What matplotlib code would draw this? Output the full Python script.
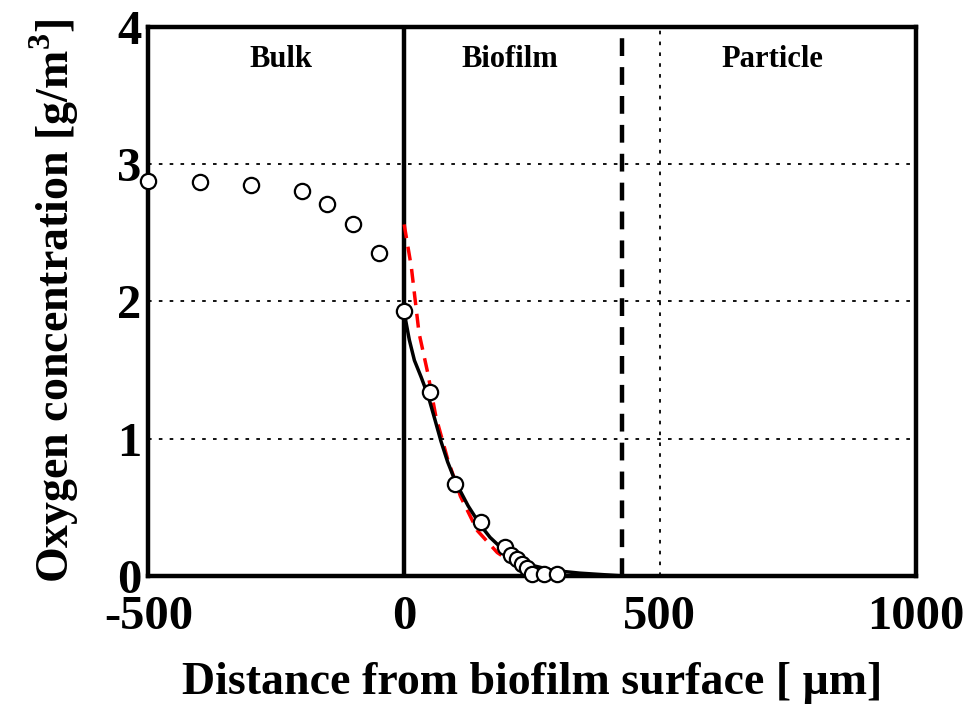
import matplotlib.pyplot as plt

plt.rcParams['font.family'] = ['Liberation Serif', 'DejaVu Serif']
plt.rcParams['font.weight'] = 'bold'
plt.rcParams['mathtext.fontset'] = 'custom'
plt.rcParams['mathtext.rm'] = 'Liberation Serif'
plt.rcParams['mathtext.bf'] = 'Liberation Serif:bold'
plt.rcParams['axes.unicode_minus'] = False

# measured oxygen profile
x_meas = [-500, -400, -300, -200, -150, -100, -50, 0, 50, 100, 150,
          198, 209, 221, 231, 240, 250, 273, 298]
c_meas = [2.88, 2.87, 2.85, 2.80, 2.71, 2.56, 2.35, 1.93, 1.34, 0.67, 0.39,
          0.21, 0.15, 0.12, 0.09, 0.06, 0.01, 0.01, 0.01]

# model curve (solid)
x_model = [0, 10, 20, 33, 47, 60, 72, 85, 101, 125, 149, 168, 188, 215,
           246, 291, 343, 425]
c_model = [1.92, 1.72, 1.57, 1.45, 1.31, 1.14, 0.98, 0.83, 0.68, 0.51, 0.37,
           0.28, 0.21, 0.13, 0.08, 0.04, 0.02, 0.0]

# alternative fit (red dashed)
x_fit = [0, 14, 29, 46, 62, 85, 110, 143, 182, 190]
c_fit = [2.56, 2.25, 1.77, 1.48, 1.16, 0.85, 0.58, 0.33, 0.17, 0.15]

particle_edge = 425
regions = ['Bulk', 'Biofilm', 'Particle']
region_x = [-240, 207, 720]

fig, ax = plt.subplots(figsize=(9.7, 7.04), dpi=100)
fig.subplots_adjust(left=0.153, right=0.944, top=0.962, bottom=0.182)

for yv in [1, 2, 3]:
    ax.axhline(yv, color='black', lw=1.3, ls=(0, (2, 4)), zorder=1)
ax.axvline(500, color='black', lw=1.3, ls=(0, (2, 4)), zorder=1)
ax.axvline(0, color='black', lw=3.2, zorder=2)
ax.axvline(particle_edge, color='black', lw=3.2, ls=(0, (4, 2.5)), zorder=2)

ax.plot(x_fit, c_fit, color='red', lw=2.5, ls=(0, (4, 2.5)), zorder=3)
ax.plot(x_model, c_model, color='black', lw=2.5, zorder=4)
ax.plot(x_meas, c_meas, 'o', ms=11, mfc='white', mec='black', mew=1.6,
        clip_on=False, zorder=5)

for name, xr in zip(regions, region_x):
    ax.text(xr, 3.76, name, ha='center', va='center', fontsize=22,
            fontweight='bold')

ax.set_xlim(-500, 1000)
ax.set_ylim(0, 4)
ax.set_xticks([-500, 0, 500, 1000])
ax.set_yticks([0, 1, 2, 3, 4])
ax.tick_params(axis='x', length=0, labelsize=35, pad=14)
ax.tick_params(axis='y', length=0, labelsize=35, pad=5)
for sp in ax.spines.values():
    sp.set_linewidth(3.2)

ax.set_xlabel('Distance from biofilm surface [ μm]', fontsize=33,
              fontweight='bold', labelpad=16)
ax.set_ylabel('Oxygen concentration [g/m$^\\mathbf{3}$]', fontsize=33,
              fontweight='bold', labelpad=26)

fig.savefig('out.png')
